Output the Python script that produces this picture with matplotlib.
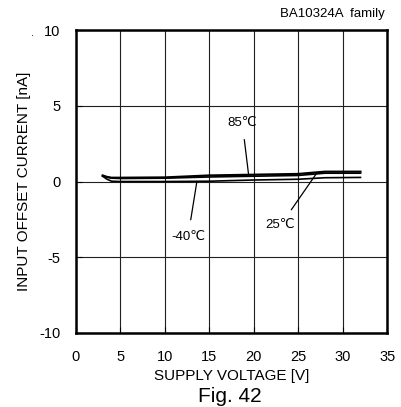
import matplotlib
matplotlib.use("Agg")
import matplotlib.pyplot as plt

plt.rcParams['font.family'] = ['Liberation Sans', 'DejaVu Sans']
plt.rcParams['axes.unicode_minus'] = False

# supply voltage [V]
voltage = [3, 3.5, 4, 5, 10, 15, 20, 25, 28, 32]
# input offset current [nA]
i_85 = [0.40, 0.30, 0.25, 0.25, 0.27, 0.40, 0.45, 0.50, 0.65, 0.65]
i_25 = [0.35, 0.30, 0.22, 0.20, 0.22, 0.30, 0.35, 0.40, 0.55, 0.55]
i_m40 = [0.35, 0.15, 0.02, 0.00, 0.00, 0.02, 0.10, 0.15, 0.25, 0.27]

xticks = [0, 5, 10, 15, 20, 25, 30, 35]
yticks = [-10, -5, 0, 5, 10]

fig = plt.figure(figsize=(4.02, 4.07), dpi=100)
ax = fig.add_axes([0.189, 0.182, 0.774, 0.744])

ax.plot(voltage, i_85, color="black", lw=1.6)
ax.plot(voltage, i_25, color="black", lw=1.2)
ax.plot(voltage, i_m40, color="black", lw=1.2)

ax.set_xlim(0, 35)
ax.set_ylim(-10, 10)
ax.set_xticks(xticks)
ax.set_yticks(yticks)
ax.grid(True, color="#202020", lw=0.8)
ax.tick_params(direction="in", length=4, labelsize=10.5)
ax.tick_params(axis="y", pad=11)
ax.tick_params(axis="x", pad=12)
for s in ax.spines.values():
    s.set_linewidth(1.8)

ax.set_xlabel("SUPPLY VOLTAGE [V]", fontsize=11, labelpad=4)
ax.set_ylabel("INPUT OFFSET CURRENT [nA]", fontsize=11, labelpad=6)

# labels with pointer lines
ax.annotate("85\u2103", xy=(19.4, 0.53), xytext=(18.7, 3.9), fontsize=9.5,
            ha="center", va="center",
            arrowprops=dict(arrowstyle="-", color="black", lw=0.9, shrinkA=6, shrinkB=0))
ax.annotate("25\u2103", xy=(27.1, 0.57), xytext=(23.0, -2.9), fontsize=9.5,
            ha="center", va="center",
            arrowprops=dict(arrowstyle="-", color="black", lw=0.9, shrinkA=6, shrinkB=0))
ax.annotate("-40\u2103", xy=(13.6, 0.0), xytext=(12.6, -3.65), fontsize=9.5,
            ha="center", va="center",
            arrowprops=dict(arrowstyle="-", color="black", lw=0.9, shrinkA=6, shrinkB=0))

fig.text(0.958, 0.965, "BA10324A  family", ha="right", va="center", fontsize=9.5)
fig.text(0.08, 0.92, ".", ha="center", va="center", fontsize=8)
fig.text(0.572, 0.025, "Fig. 42", ha="center", va="center", fontsize=15)

fig.savefig("out.png", dpi=100)
